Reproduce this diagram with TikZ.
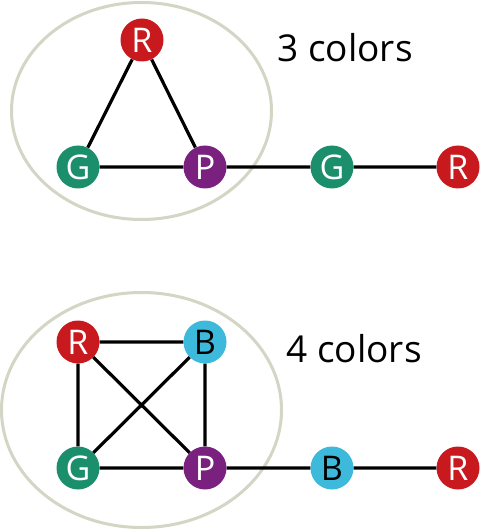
\documentclass[tikz,border=0pt]{standalone}
\usepackage{fontspec}
\setmainfont{Open Sans}
\definecolor{vred}{HTML}{C8191E}
\definecolor{vgreen}{HTML}{1B8E6B}
\definecolor{vpurple}{HTML}{7A2180}
\definecolor{vblue}{HTML}{3DB9DC}
\definecolor{ring}{HTML}{D3D5C5}
\begin{document}
\begin{tikzpicture}[x=1pt,y=-1pt,
  vtx/.style   ={circle, minimum size=43pt, inner sep=0pt, text=white,
                 font=\fontsize{34}{34}\selectfont},
  rv/.style    ={vtx, fill=vred},
  gv/.style    ={vtx, fill=vgreen},
  pv/.style    ={vtx, fill=vpurple},
  bv/.style    ={vtx, fill=vblue, text=black},
  edge/.style  ={draw=black, line width=3.2pt},
  grp/.style   ={draw=ring, line width=3pt},
  lbl/.style   ={font=\fontsize{37}{37}\selectfont, anchor=base west}]

  \useasboundingbox (0,0) rectangle (480,529);

  % ---------------- 3 colours (triangle + tail) ----------------
  \draw[grp] (141.5,111) ellipse [x radius=130, y radius=108.5];
  \node[rv] (r1) at (142,40) {R};
  \node[gv] (g1) at (78,167) {G};
  \node[pv] (p1) at (205,167) {P};
  \node[gv] (g2) at (332,167) {G};
  \node[rv] (r2) at (458,167) {R};
  \draw[edge] (r1) -- (g1) (r1) -- (p1) (g1) -- (p1) (p1) -- (g2) (g2) -- (r2);
  \node[lbl] (t3) at (274,62) {3 colors};

  % ---------------- 4 colours (K4 + tail) ----------------
  \draw[grp] (141.5,410) ellipse [x radius=140, y radius=117.5];
  \node[rv] (r3) at (78,342) {R};
  \node[bv] (b1) at (205,342) {B};
  \node[gv] (g3) at (78,468) {G};
  \node[pv] (p2) at (205,468) {P};
  \node[bv] (b2) at (332,468) {B};
  \node[rv] (r4) at (458,468) {R};
  \draw[edge] (r3) -- (b1) (r3) -- (g3) (r3) -- (p2) (b1) -- (g3) (b1) -- (p2)
              (g3) -- (p2) (p2) -- (b2) (b2) -- (r4);
  \node[lbl] (t4) at (283,362) {4 colors};
\end{tikzpicture}
\end{document}
